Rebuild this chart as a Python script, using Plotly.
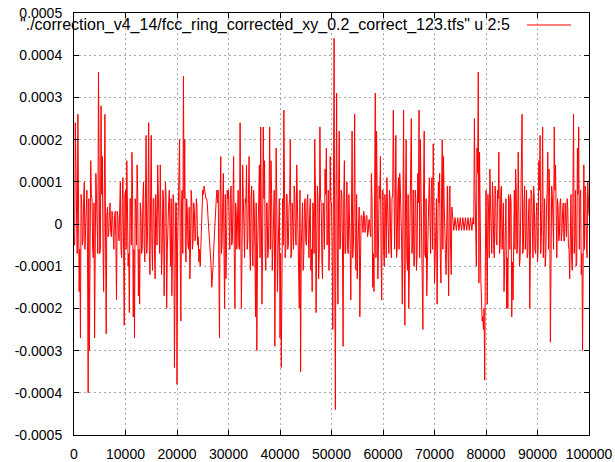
import plotly.graph_objects as go

# Values in units of 1e-5.
# "block" arrays: samples every 250 along x (spikes / envelope)
# "band" arrays: samples in between (offset 125) that form the dense core band
x_step = 250
block0 = [-3, 24, 2, 26, -16, -27, 5, -4, 10, -2, 8, -40, -30, 15, 6, -8, -27, 12, -5, 36,
          -7, 28, 16, -16, 26, -26, 4, -2, 5, -3, 2, -6, 3, -18, 2, -4, 10, -8, 11, -24]
block1 = [8, 15, -10, -21, 6, 17, -22, -27, 4, 14, -17, -19, 3, -6, 10, -9, 21, -4, 24, -12,
          21, -11, 6, -13, 3, 14, -5, 14, -12, 8, -17, 10, -20, 2, 8, -10, -17, 7, -34, 5]
block2 = [-38, 3, 20, -23, 8, 35, 20, -9, 3, -6, -13, 8, -6, 5, -4, 6, -5, -9, -10, 2,
          8, 9, 6, 6, 2, -4, -8, -15, -10, -2, 4, 8, 8, -27, 16, -5, 12, -20, -13, 8]
block3 = [8, -6, 9, -4, 16, -20, 3, 5, -5, 24, -20, 14, -3, 6, 14, -4, 16, -11, 9, -10,
          4, -22, -30, 6, 14, 23, -19, 23, 15, -11, 5, -6, 23, 15, -11, 6, -29, 18, -16, 4]
block4 = [-27, -34, 6, 27, -8, 7, -6, 4, 20, -7, -6, 9, -3, 14, 2, -20, -35, 3, -11, 5,
          -4, 5, -3, 2, -11, -16, 3, 20, -21, 9, -13, 23, 5, -13, 3, 13, 18, -4, -11, 16]
block5 = [5, -25, 44, -44, 31, -19, 22, -5, 7, -29, 15, -7, 10, -7, 3, -18, 22, -5, 26, -11,
          -13, 4, -22, 2, -1, 3, -2, 2, -3, 1, -2, 12, -15, -16, 31, 22, -13, 9, 16, -18]
block6 = [8, -10, 3, 11, -7, 8, -4, 6, 27, -6, 21, -6, 11, 12, 2, -19, 27, -24, 20, -11,
          -20, 6, 25, -4, -10, 8, -11, 12, 27, 20, -6, -25, 22, -8, -17, 5, 11, -7, 11, 19]
block7 = [-14, 4, -19, 10, 12, -14, 20, 16, -6, -12, 9, -17, 9, -12, 1.5, -1.5, 1.5, -1.5, 1.5, -1.5,
          1.5, -1.5, 1.5, -1.5, 1.5, -1.5, 1.5, -1.5, 1.5, -1.5, 1.5, 25, -3, 18, 36, 17, -13, -23, -25, -37]
block8 = [8, -19, 3, 13, -6, 10, -6, 9, -4, 8, 17, -5, 9, 0, -16, 5, -20, -20, 6, 7,
          -22, -18, 8, 13, -7, 17, -10, 4, 26, -6, 9, -3, -8, 2, -20, 8, -5, 9, -6, 2]
block9 = [-9, 15, 21, -3, 23, 5, -10, 4, 17, 13, -28, 9, -4, 23, 14, -8, 4, -3, 6, -2,
          5, -4, 2, 6, -5, -13, 7, -11, 26, -4, -10, 18, 23, 6, -12, -30, 14, 9, -4, 10, 2]

band0 = [-5, 6, -7, 5, -6, 7, -5, 6, -6, 5, -7, 6, -5, 7, -6, 5, -6, 6, -7, 5,
         -6, 7, -5, 6, -3, 2, -3, 3, -2, 3, -3, 2, -3, 3, -2, 4, -6, 5, -6, 7]
band1 = [-6, 5, -7, 6, -5, 7, -6, 6, -5, 7, -6, 5, -7, 6, -5, 6, -7, 5, -6, 7,
         -5, 6, -6, 7, -5, 6, -7, 5, -6, 6, -5, 7, -6, 5, -6, 6, -7, 5, -6, 5]
band2 = [-5, 6, -6, 5, -7, 6, -5, 6, -5, 4, -6, 5, -4, 3, -3, 4, -3, -6, -4, 4,
         7, 8, 6, 5, 0, -5, -10, -13, -6, 1, 6, 5, -5, 6, -7, 5, -6, 7, -5, 6]
band3 = [-6, 7, -5, 6, -7, 5, -6, 8, -6, 5, -7, 6, -8, 5, -6, 7, -5, 6, -7, 8,
         -6, 5, -7, 6, -8, 7, -5, 6, -7, 5, -8, 6, -6, 7, -5, 8, -6, 5, -7, 6]
band4 = [-7, 6, -5, 8, -6, 7, -5, 6, -8, 5, -6, 7, -5, 6, -7, 8, -6, 5, -7, 6,
         -5, 7, -8, 6, -6, 5, -7, 8, -5, 6, -7, 6, -8, 5, -6, 7, -5, 8, -6, 5]
band5 = [-6, 7, -8, 6, -5, 7, -6, 8, -5, 6, -7, 5, -6, 7, -5, 6, -8, 5, -6, 7,
         -5, 4, -3, 2, -2, 2, -1, 2, -2, 1, -3, 5, -7, 6, -8, 7, -5, 6, -7, 8]
band6 = [-6, 7, -8, 5, -7, 6, -8, 7, -6, 5, -8, 7, -6, 8, -5, 7, -9, 6, -8, 7,
         -10, 6, -7, 8, -9, 6, -7, 5, -8, 7, -6, 8, -7, 6, -9, 5, -7, 8, -6, 7]
band7 = [-8, 6, -7, 5, -8, 7, -6, 5, -7, 6, -5, 7, -6, 4, 0, 0, 0, 0, 0, 0,
         0, 0, 0, 0, 0, 0, 0, 0, 0, 0, 0, 8, -10, 12, -14, -8, -18, -22, -20, -8]
band8 = [-6, 7, -8, 5, -7, 6, -8, 7, -5, 6, -7, 8, -6, 5, -9, 6, -8, 7, -6, 5,
         -9, 7, -6, 8, -5, 7, -8, 6, -7, 5, -6, 8, -7, 6, -5, 7, -8, 6, -7, 5]
band9 = [-6, 8, -7, 5, -8, 6, -7, 8, -6, 5, -9, 7, -6, 8, -5, 6, -4, 5, -4, 3,
         -4, 5, -3, 4, -6, 7, -8, 6, -7, 8, -9, 7, -6, 8, -7, 9, -6, 7, -8, 6]

x_ticks = [0, 10000, 20000, 30000, 40000, 50000, 60000, 70000, 80000, 90000, 100000]
x_tick_labels = ["0", "10000", "20000", "30000", "40000", "50000", "60000", "70000",
                 "80000", "90000", "100000"]
y_ticks = [-0.0005, -0.0004, -0.0003, -0.0002, -0.0001, 0, 0.0001, 0.0002, 0.0003, 0.0004, 0.0005]
y_tick_labels = ["-0.0005", "-0.0004", "-0.0003", "-0.0002", "-0.0001", "0",
                 "0.0001", "0.0002", "0.0003", "0.0004", "0.0005"]
legend_label = '"./correction_v4_14/fcc_ring_corrected_xy_0.2_correct_123.tfs" u 2:5'

main_vals = block0 + block1 + block2 + block3 + block4 + block5 + block6 + block7 + block8 + block9
band_vals = band0 + band1 + band2 + band3 + band4 + band5 + band6 + band7 + band8 + band9

pts = [(i * x_step, v) for i, v in enumerate(main_vals)]
pts += [(i * x_step + x_step // 2, v) for i, v in enumerate(band_vals)]
pts.sort()
x = [p[0] for p in pts]
y = [p[1] * 1e-5 for p in pts]

FONT = "Liberation Sans, Arial, sans-serif"

fig = go.Figure()
fig.add_trace(go.Scatter(x=x, y=y, mode="lines", line=dict(color="#ff0000", width=1),
                         showlegend=False, hoverinfo="skip"))

axis_common = dict(
    showgrid=True, gridcolor="#a8a8a8", gridwidth=1, griddash="2px,3px",
    showline=True, linecolor="black", linewidth=1, mirror="allticks",
    ticks="inside", ticklen=5, tickcolor="black", tickwidth=1,
    zeroline=False, automargin=False,
    tickfont=dict(family=FONT, size=14, color="black"),
)

fig.update_layout(
    width=615, height=462,
    margin=dict(l=74, r=26, t=13, b=27, pad=0),
    paper_bgcolor="white", plot_bgcolor="white",
    xaxis=dict(range=[0, 100000], tickmode="array", tickvals=x_ticks, ticktext=x_tick_labels,
               ticklabelstandoff=6, **axis_common),
    yaxis=dict(range=[-0.0005, 0.0005], tickmode="array", tickvals=y_ticks, ticktext=y_tick_labels,
               ticklabelstandoff=8, **axis_common),
    annotations=[dict(text=legend_label, xref="paper", yref="paper", x=0.8505, y=0.9716,
                      xanchor="right", yanchor="middle", showarrow=False,
                      font=dict(family=FONT, size=16, color="black"))],
    shapes=[dict(type="line", xref="paper", yref="paper", x0=0.8796, x1=0.9650,
                 y0=0.9716, y1=0.9716, line=dict(color="#ff0000", width=1))],
)

fig.write_html("out.html")
